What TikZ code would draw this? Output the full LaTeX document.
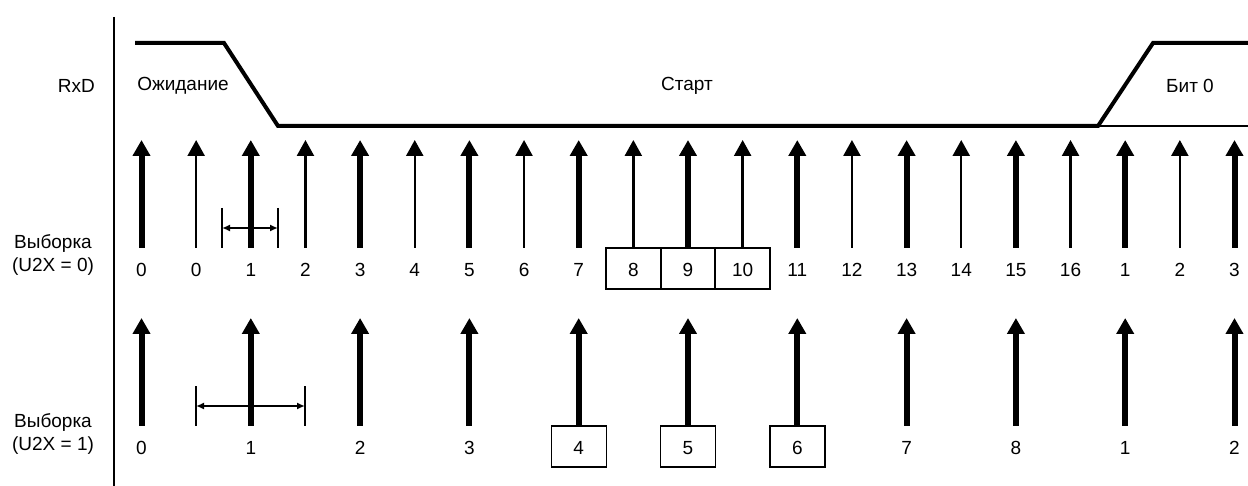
\documentclass[tikz,border=0pt]{standalone}
\usepackage{fontspec}
\setmainfont{Liberation Sans}
\usetikzlibrary{arrows.meta,calc}
\begin{document}
\begin{tikzpicture}[x=1pt,y=-1pt,
  txt/.style={font=\fontsize{19}{23}\selectfont, inner sep=0pt},
  lbl/.style={txt, minimum width=55pt, minimum height=41pt, text height=16pt, text depth=0pt},
  boxed/.style={lbl, draw, line width=1.4pt},
  thk/.style={line width=6pt, -{Triangle[width=17pt,length=16pt]}},
  thn/.style={line width=2.4pt, -{Triangle[width=17pt,length=16pt]}},
  wave/.style={line width=4pt},
  span/.style={line width=1.8pt, {Latex[length=8pt,width=7pt]}-{Latex[length=8pt,width=7pt]}},
  bar/.style={line width=2pt}]
\useasboundingbox (0,0) rectangle (1248,486);
% axis
\draw[line width=2pt] (114,17) -- (114,486);
% row labels
\node[txt, anchor=east] (rxd) at (95,86) {RxD};
\node[txt, align=center] (s0) at (53,255) {Выборка\\(U2X = 0)};
\node[txt, align=center] (s1) at (53,434) {Выборка\\(U2X = 1)};
% waveform
\draw[wave] (135,43) -- (224,43) -- (278,126) -- (1098,126) -- (1153,43) -- (1248,43);
\draw[line width=1.5pt] (1098,126) -- (1248,126);
\node[txt] (idle) at (183,86) {Ожидание};
\node[txt] (start) at (687,86) {Старт};
\node[txt] (bit0) at (1190,86) {Бит 0};
% top row samples
\coordinate (ttop) at (0,140);
\foreach \t/\s/\w [count=\i from 0] in {0/lbl/thk,0/lbl/thn,1/lbl/thk,2/lbl/thn,3/lbl/thk,4/lbl/thn,5/lbl/thk,6/lbl/thn,7/lbl/thk,8/boxed/thn,9/boxed/thk,10/boxed/thn,11/lbl/thk,12/lbl/thn,13/lbl/thk,14/lbl/thn,15/lbl/thk,16/lbl/thn,1/lbl/thk,2/lbl/thn,3/lbl/thk}{
  \pgfmathsetmacro\xx{141.5+54.65*\i}
  \node[\s] (t\i) at (\xx,268.5) {\t};
  \draw[\w] (t\i.north) -- (t\i.north |- ttop);
}
% bottom row samples
\coordinate (btop) at (0,318);
\foreach \t/\s [count=\j from 0] in {0/lbl,1/lbl,2/lbl,3/lbl,4/boxed,5/boxed,6/boxed,7/lbl,8/lbl,1/lbl,2/lbl}{
  \pgfmathsetmacro\xx{141.5+109.3*\j}
  \node[\s] (b\j) at (\xx,446.5) {\t};
  \draw[thk] (b\j.north) -- (b\j.north |- btop);
}
% spans
\coordinate (ta) at (222,208); \coordinate (tb) at (222,248);
\coordinate (tc) at (278,208); \coordinate (td) at (278,248);
\draw[bar] (ta) -- (tb);
\draw[bar] (tc) -- (td);
\draw[span] ($(ta)!0.5!(tb)$) -- ($(tc)!0.5!(td)$);
\coordinate (ba) at (196,386); \coordinate (bb) at (196,426);
\coordinate (bc) at (305,386); \coordinate (bd) at (305,426);
\draw[bar] (ba) -- (bb);
\draw[bar] (bc) -- (bd);
\draw[span] ($(ba)!0.5!(bb)$) -- ($(bc)!0.5!(bd)$);
\end{tikzpicture}
\end{document}
